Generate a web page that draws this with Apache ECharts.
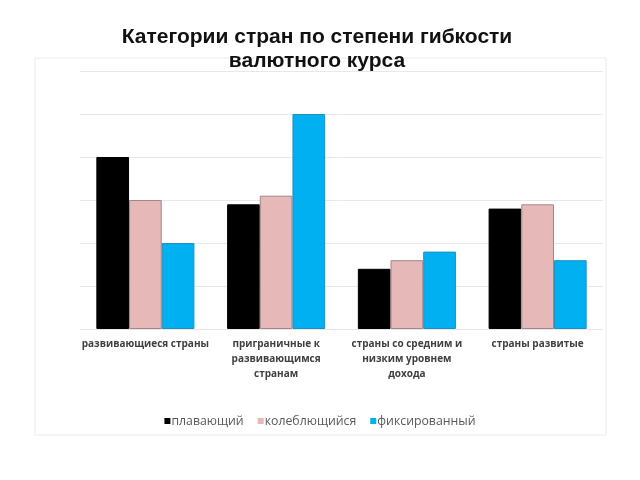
<!DOCTYPE html>
<html><head><meta charset="utf-8">
<script src="https://cdn.jsdelivr.net/npm/echarts@6/dist/echarts.min.js"></script>
<style>html,body{margin:0;padding:0;background:#fff}#c{width:640px;height:480px}</style>
</head><body><div id="c"></div>
<script>
const categories = ["развивающиеся страны", "приграничные к\nразвивающимся\nстранам", "страны со средним и\nнизким уровнем\nдохода", "страны развитые"];
const seriesNames = ["плавающий", "колеблющийся", "фиксированный"];
const floating = [4.0, 2.9, 1.4, 2.8];
const fluctuating = [3.0, 3.1, 1.6, 2.9];
const fixed = [2.0, 5.0, 1.8, 1.6];
const colors = ["#000000", "#e6b9b8", "#00b0f0"];
const borders = ["#000000", "#a58584", "#1d8fc0"];
const values = [floating, fluctuating, fixed];

const chart = echarts.init(document.getElementById('c'));
chart.setOption({
  animation: false,
  backgroundColor: '#ffffff',
  title: {
    text: 'Категории стран по степени гибкости\nвалютного курса',
    left: 312, top: 20, textAlign: 'center',
    textStyle: {fontFamily: 'Liberation Sans, Arial, sans-serif', fontSize: 21, fontWeight: 'bold', color: '#111', lineHeight: 24}
  },
  graphic: [{
    type: 'rect', shape: {x: 35, y: 58, width: 571, height: 377},
    style: {fill: 'none', stroke: '#ececec', lineWidth: 1}, z: -1
  }],
  legend: {
    top: 410, left: 'center', itemWidth: 6, itemHeight: 6, itemGap: 14,
    icon: 'rect',
    itemStyle: {borderWidth: 0},
    textStyle: {fontFamily: 'Open Sans, DejaVu Sans, sans-serif', fontSize: 12.3, color: '#595959', padding: [0,0,0,-4]},
    data: seriesNames
  },
  grid: {left: 80, right: 37, top: 71, bottom: 151},
  xAxis: {
    type: 'category', data: categories,
    axisLine: {show: false}, axisTick: {show: false},
    axisLabel: {margin: 8, fontFamily: 'Open Sans, DejaVu Sans, sans-serif', fontSize: 10, fontWeight: 'bold', color: '#404040', lineHeight: 15, interval: 0}
  },
  yAxis: {
    type: 'value', min: 0, max: 6, interval: 1,
    axisLabel: {show: false}, axisLine: {show: false}, axisTick: {show: false},
    splitLine: {lineStyle: {color: '#e8e8e8', width: 1}}
  },
  series: seriesNames.map((n, i) => ({
    name: n, type: 'bar', data: values[i],
    barGap: '0%', barCategoryGap: '25%',
    itemStyle: {color: colors[i], borderColor: borders[i], borderWidth: 1}
  }))
});
</script></body></html>
